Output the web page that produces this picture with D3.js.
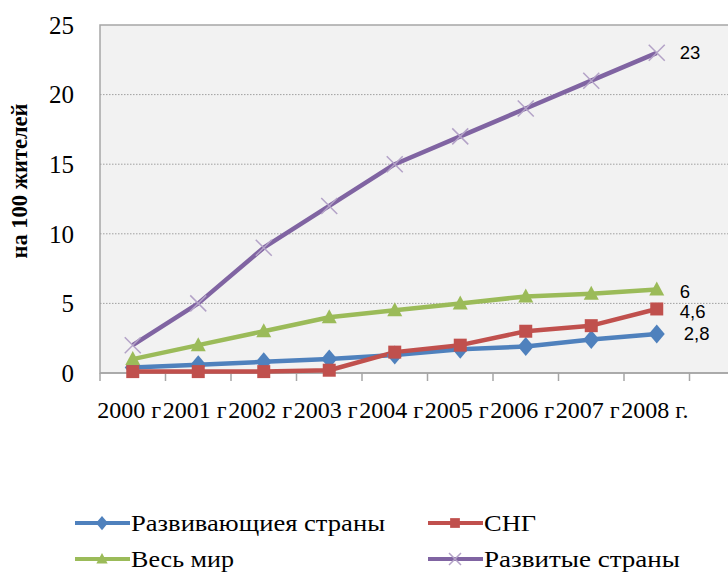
<!DOCTYPE html>
<html><head><meta charset="utf-8">
<script src="https://cdn.jsdelivr.net/npm/d3@7"></script>
<style>body{margin:0;background:#fff}svg{display:block}
.serif{font-family:"Liberation Serif","Times New Roman","DejaVu Serif",serif}
.sans{font-family:"Liberation Sans",Arial,sans-serif}</style>
</head><body>
<svg id="c" width="728" height="573"></svg>
<script>
const categories = ["2000 г.","2001 г.","2002 г.","2003 г.","2004 г.","2005 г.","2006 г.","2007 г.","2008 г."];
const developing = [0.4,0.6,0.8,1.0,1.3,1.7,1.9,2.4,2.8];
const cis = [0.1,0.1,0.1,0.2,1.5,2.0,3.0,3.4,4.6];
const world = [1,2,3,4,4.5,5,5.5,5.7,6];
const developed = [2,5,9,12,15,17,19,21,23];
const yTicks = [0,5,10,15,20,25];
const lastLabels = ["2,8","4,6","6","23"];
const seriesNames = ["Развивающиея страны","СНГ","Весь мир","Развитые страны"];
const yTitle = "на 100 жителей";

const series = [
  {name:seriesNames[0], values:developing, color:"#4F81BD", marker:"diamond", label:lastLabels[0]},
  {name:seriesNames[1], values:cis, color:"#C0504D", marker:"square", label:lastLabels[1]},
  {name:seriesNames[2], values:world, color:"#9BBB59", marker:"triangle", label:lastLabels[2]},
  {name:seriesNames[3], values:developed, color:"#8064A2", marker:"x", label:lastLabels[3]}
];

const svg = d3.select("#c");
const pLeft=100, pTop=25, pBottom=373, pRight=689.5, plotRight=740;
const x = d3.scaleBand().domain(categories).range([pLeft,pRight]);
const y = d3.scaleLinear().domain([0,25]).range([pBottom,pTop]);

svg.append("rect").attr("x",pLeft).attr("y",pTop).attr("width",plotRight-pLeft).attr("height",pBottom-pTop)
  .attr("fill","#F2F2F2").attr("stroke","#A6A6A6").attr("stroke-width",1.5);

// grid
svg.append("g").selectAll("line").data(yTicks.filter(d=>d>0&&d<25)).join("line")
  .attr("x1",pLeft).attr("x2",plotRight).attr("y1",d=>y(d)).attr("y2",d=>y(d))
  .attr("stroke","#A0A0A0").attr("stroke-width",1).attr("stroke-dasharray","1.5,1.5");

// y axis labels
svg.append("g").selectAll("text").data(yTicks).join("text").attr("class","serif")
  .attr("x",74).attr("y",d=>y(d)).attr("dy","0.35em").attr("text-anchor","end")
  .attr("font-size",25).attr("fill","#000").text(d=>d);

// x axis
const xAxis = svg.append("g").attr("transform",`translate(0,${pBottom})`)
  .call(d3.axisBottom(x).tickSize(0).tickFormat(""));
xAxis.select(".domain").remove();
svg.append("line").attr("x1",pLeft).attr("x2",plotRight).attr("y1",pBottom).attr("y2",pBottom)
  .attr("stroke","#A6A6A6").attr("stroke-width",1.5);
const bounds = categories.map(c=>x(c)).concat([x(categories[categories.length-1])+x.bandwidth()]);
svg.append("g").selectAll("line").data(bounds).join("line")
  .attr("x1",d=>d).attr("x2",d=>d).attr("y1",pBottom).attr("y2",pBottom+8)
  .attr("stroke","#A6A6A6").attr("stroke-width",1.5);
// labels overlap in the original: each label's trailing period is hidden by the next label
const lastCat = categories[categories.length-1];
svg.append("g").selectAll("text").data(categories).join("text").attr("class","serif")
  .attr("x",d=>x(d)-2.7)
  .attr("y",418).attr("text-anchor","start")
  .attr("font-size",24).attr("fill","#000")
  .text(d=> d===lastCat ? d : d.replace(/\.$/,""));

// y title
svg.append("text").attr("class","serif").attr("transform","translate(27,181) rotate(-90)").attr("text-anchor","middle")
  .attr("font-weight","bold").attr("font-size",22.5)
  .attr("fill","#000").text(yTitle);

function markerPath(type, s){
  if(type==="diamond") return `M0,${-9.5*s}L${8*s},0L0,${9.5*s}L${-8*s},0Z`;
  if(type==="square") return `M${-6.5*s},${-6.5*s}h${13*s}v${13*s}h${-13*s}Z`;
  if(type==="triangle") return `M0,${-8*s}L${7.5*s},${6*s}L${-7.5*s},${6*s}Z`;
  return `M${-8*s},${-8*s}L${8*s},${8*s}M${8*s},${-8*s}L${-8*s},${8*s}`;
}
function drawMarker(g, type, color, s){
  const p = g.append("path").attr("d",markerPath(type,s));
  if(type==="x") p.attr("fill","none").attr("stroke","#B3A2C7").attr("stroke-width",1.5);
  else p.attr("fill",color);
}

const line = d3.line().x((d,i)=>x(categories[i])+x.bandwidth()/2).y(d=>y(d));
series.forEach(s=>{
  svg.append("path").datum(s.values).attr("d",line).attr("fill","none")
    .attr("stroke",s.color).attr("stroke-width",4.5).attr("stroke-linejoin","round");
});
series.forEach(s=>{
  s.values.forEach((v,i)=>{
    const g = svg.append("g").attr("transform",`translate(${x(categories[i])+x.bandwidth()/2},${y(v)})`);
    drawMarker(g, s.marker, s.color, 1);
  });
  const n = s.values.length-1;
  svg.append("text").attr("class","sans").attr("x",x(categories[n])+x.bandwidth()/2 + (s.marker==="diamond"?27:23))
    .attr("y",y(s.values[n]) + (s.marker==="square"?3:(s.marker==="triangle"?2:0))).attr("dy","0.35em")
    .attr("font-size",18.5).attr("fill","#000").text(s.label);
});

// legend
const legPos = [[75,523],[428,523],[75,559],[428,559]];
const legW = [254,52,103,196];
series.forEach((s,i)=>{
  const [lx,ly] = legPos[i];
  const g = svg.append("g");
  g.append("line").attr("x1",lx).attr("x2",lx+55).attr("y1",ly).attr("y2",ly)
    .attr("stroke",s.color).attr("stroke-width",4);
  const mg = g.append("g").attr("transform",`translate(${lx+27},${ly})`);
  drawMarker(mg, s.marker, s.color, 0.75);
  g.append("text").attr("class","serif").attr("x",lx+56).attr("y",ly+7.5)
    .attr("font-size",23).attr("fill","#000")
    .attr("textLength",legW[i]).attr("lengthAdjust","spacingAndGlyphs").text(s.name);
});
</script>
</body></html>
